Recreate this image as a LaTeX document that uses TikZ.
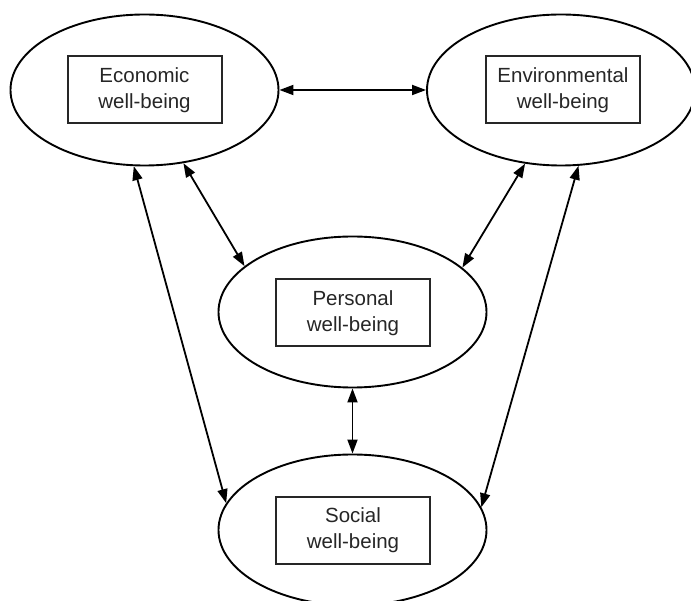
\documentclass[tikz,border=0pt]{standalone}
\usepackage{fontspec}
\setmainfont{Liberation Sans}
\usetikzlibrary{arrows.meta,shapes.geometric}
\begin{document}
\begin{tikzpicture}[x=1pt,y=-1pt,
  sphere/.style={draw=black, line width=1.9pt, ellipse, minimum width=268pt, minimum height=151pt, inner sep=0pt},
  label box/.style={draw=black!85, line width=2pt, rectangle, minimum width=154pt, minimum height=67pt, inner sep=0pt, align=center, text=black!85, font=\fontsize{20.5}{25.5}\selectfont},
  link/.style={line width=1.8pt, {Triangle[length=14pt,width=10pt]}-{Triangle[length=14pt,width=10pt]}}
]
\useasboundingbox (0,0) rectangle (691,601);

% four domains, each an ellipse holding a framed label
\node[sphere] (econ) at (144.5,90) {};
\node[label box] (econbox) at (144.5,90) {Economic\\well-being};

\node[sphere] (env) at (561,90) {};
\node[label box] (envbox) at (563,90) {Environmental\\well-being};

\node[sphere] (pers) at (352.5,312) {};
\node[label box] (persbox) at (353,313) {Personal\\well-being};

\node[sphere] (soc) at (352.5,530) {};
\node[label box] (socbox) at (353,530) {Social\\well-being};

% two-way links between the domains
\draw[link] (econ.0) -- (env.180);
\draw[link] (econ.-62.5) -- (pers.157.9);
\draw[link] (econ.-98.9) -- (soc.168.9);
\draw[link] (env.-116.9) -- (pers.22.2);
\draw[link] (env.-77.5) -- (soc.10.9);
\draw[link] (pers.270) -- (soc.90);
\end{tikzpicture}
\end{document}
